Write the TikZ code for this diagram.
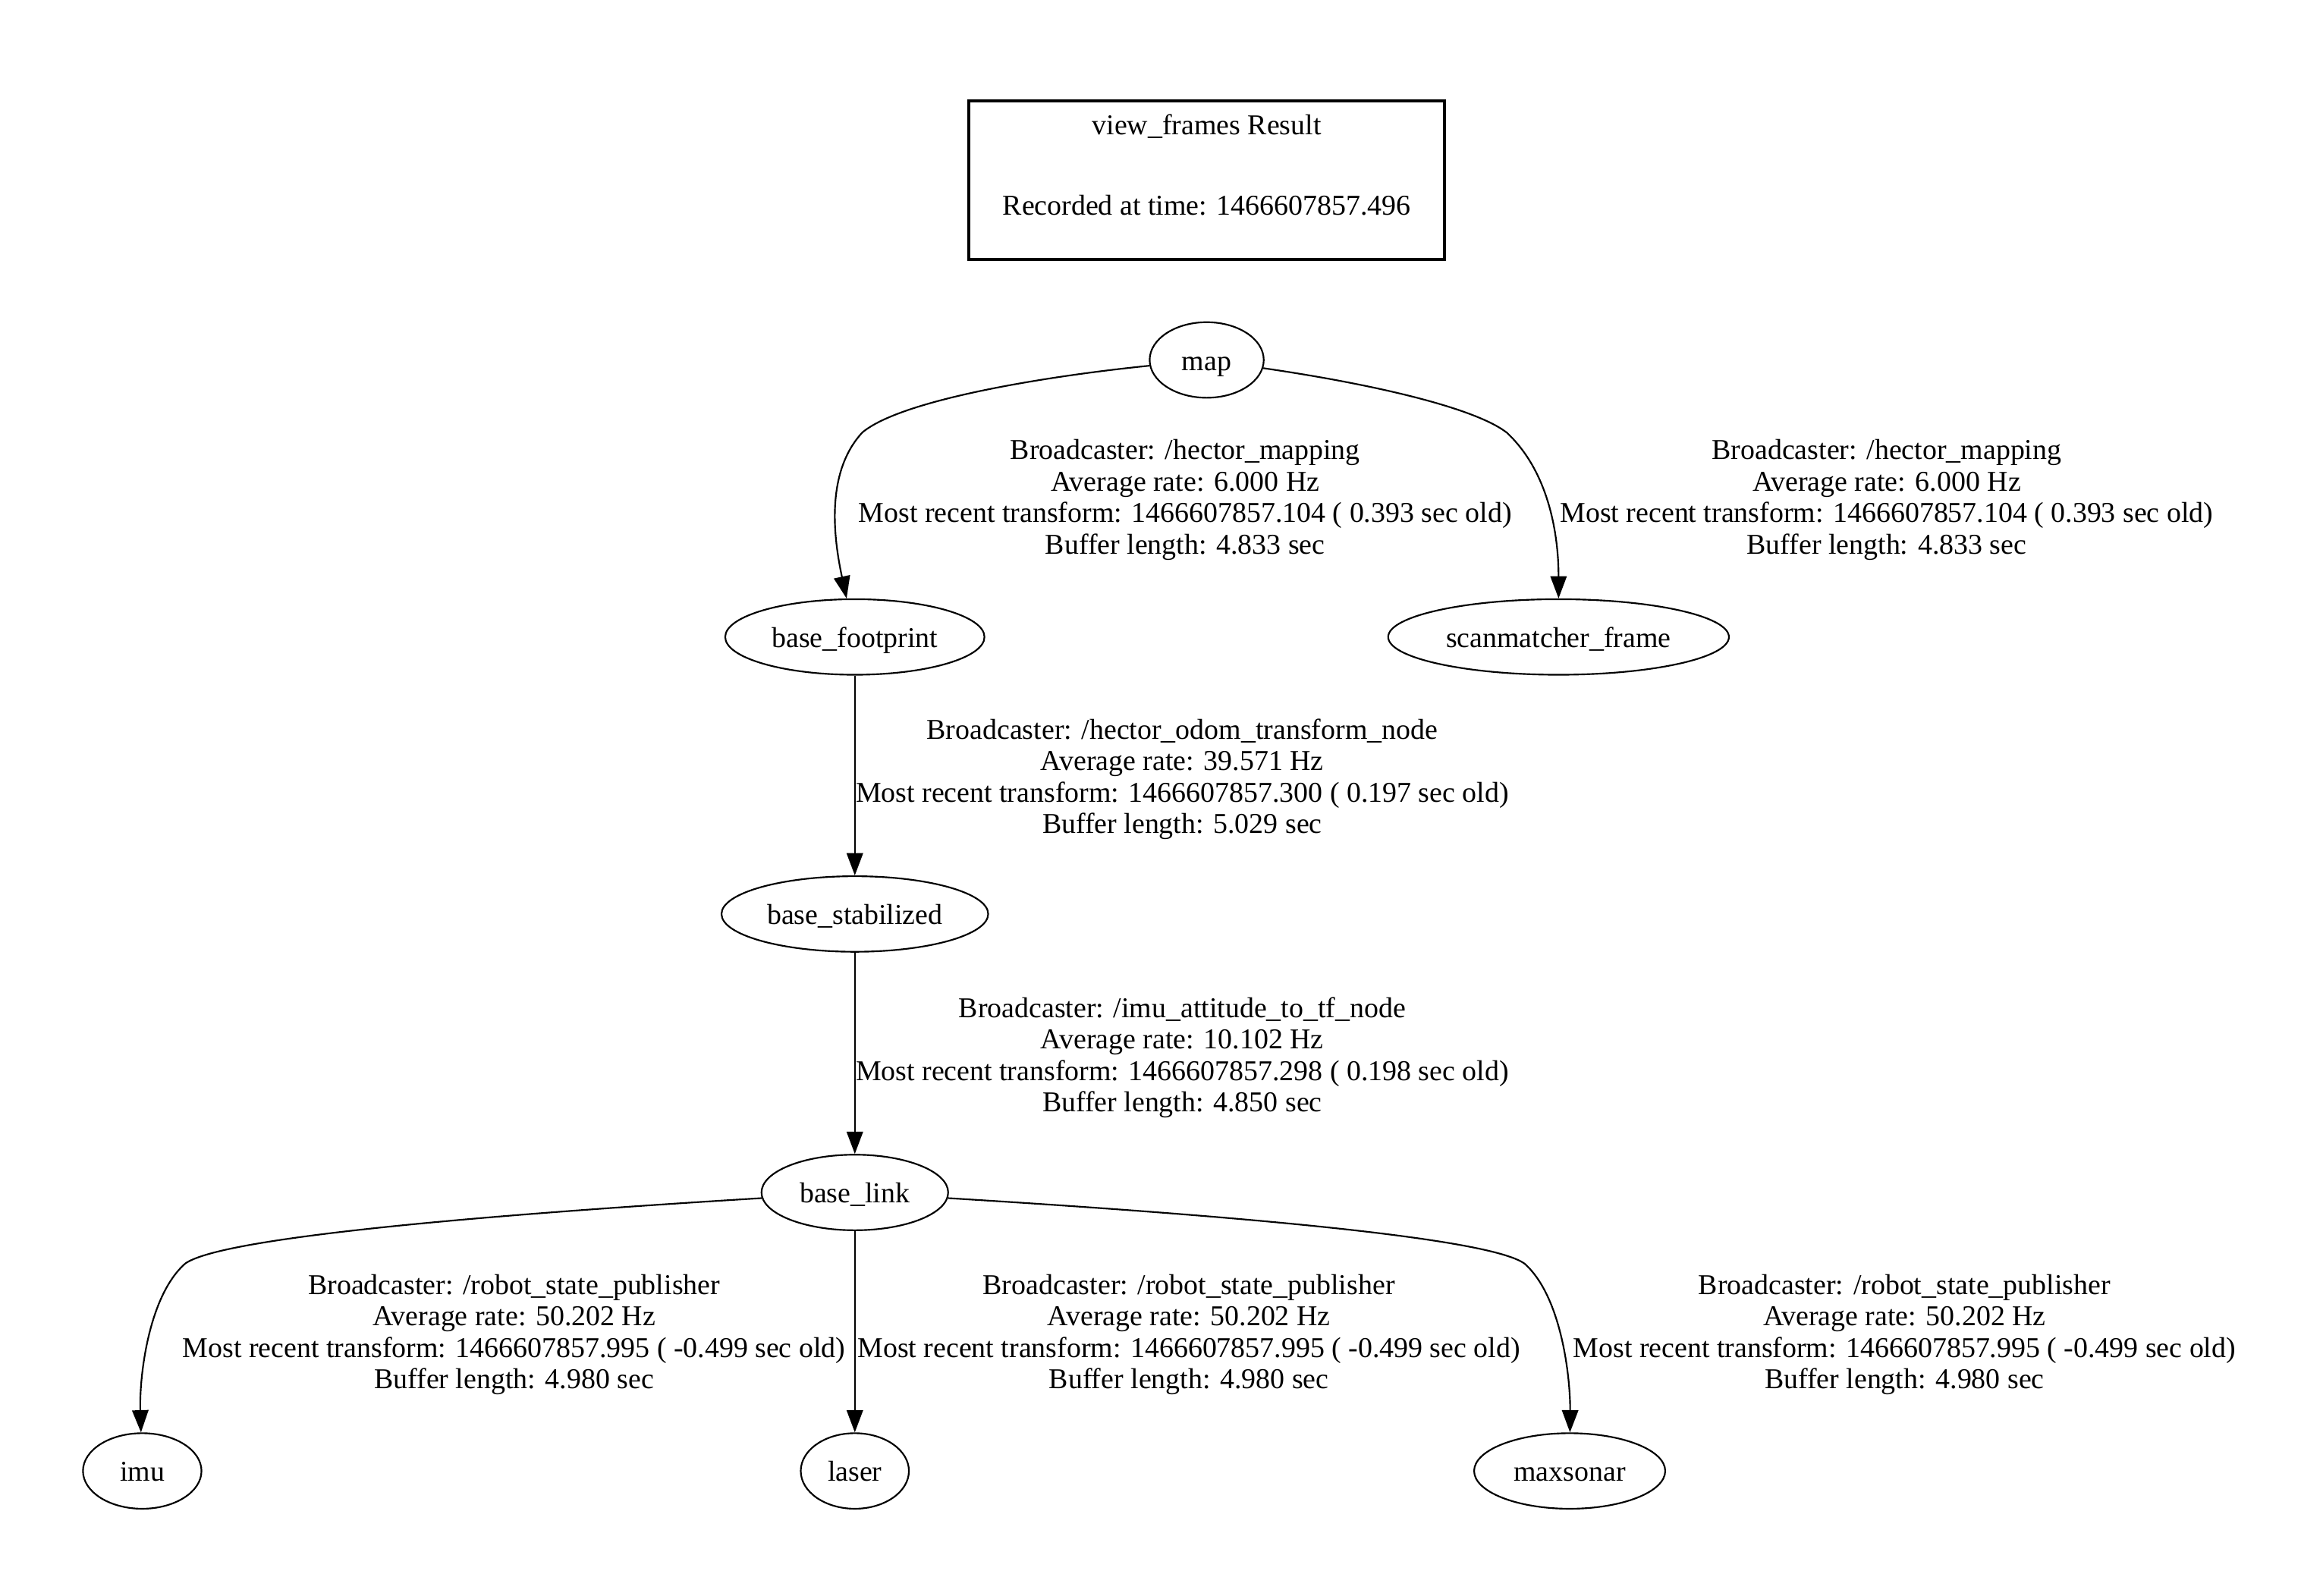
\documentclass[tikz,border=0pt]{standalone}
\usepackage{fontspec}
\setmainfont{Liberation Serif}
\usetikzlibrary{shapes.geometric,arrows.meta}
\begin{document}
\begin{tikzpicture}[x=1pt,y=-1pt,
  every node/.style={font=\fontsize{19.4}{21.3}\selectfont},
  frame/.style={draw, ellipse, line width=1.1pt, minimum height=51pt, inner sep=0pt, text height=18.5pt, text depth=4.5pt},
  lbl/.style={align=center, inner sep=0pt},
  arr/.style={-{Triangle[length=15pt,width=11pt]}, line width=1.1pt},
  titlebox/.style={draw, line width=2.2pt, minimum width=321pt, minimum height=107pt, inner sep=0pt}]
\useasboundingbox[fill=white] (0,0) rectangle (1568,1077);
% title
\node[titlebox] (title) at (814.5,121.5) {};
\node[inner sep=0pt] (t1) at (814.5,85.5) {view\_frames Result};
\node[inner sep=0pt] (t2) at (814.5,138.5) {Recorded at time: 1466607857.496};
% frames
\node[frame, minimum width=77pt] (map) at (814.5,243) {map};
\node[frame, minimum width=175pt] (bf) at (577,430) {base\_footprint};
\node[frame, minimum width=230pt] (sm) at (1052,430) {scanmatcher\_frame};
\node[frame, minimum width=180pt] (bs) at (577,617) {base\_stabilized};
\node[frame, minimum width=126pt] (bl) at (577,805) {base\_link};
\node[frame, minimum width=80pt] (imu) at (96,993) {imu};
\node[frame, minimum width=73pt] (laser) at (577,993) {laser};
\node[frame, minimum width=129pt] (mx) at (1059.5,993) {maxsonar};
% edges
\draw[arr] (map) .. controls (705,254) and (608,270) .. (582,292) .. controls (558,318) and (562,360) .. (bf);
\draw[arr] (map) .. controls (925,259) and (995,275) .. (1017,292) .. controls (1045,318) and (1052,360) .. (sm);
\draw[arr] (bf) -- (bs);
\draw[arr] (bs) -- (bl);
\draw[arr] (bl) .. controls (330,820) and (150,835) .. (125,853) .. controls (100,875) and (94,930) .. (imu);
\draw[arr] (bl) -- (laser);
\draw[arr] (bl) .. controls (824,820) and (1004,835) .. (1029,853) .. controls (1054,875) and (1060,930) .. (mx);
% labels
\node[lbl] (l1) at (800,337.5) {Broadcaster: /hector\_mapping\\Average rate: 6.000 Hz\\Most recent transform: 1466607857.104 ( 0.393 sec old)\\Buffer length: 4.833 sec};
\node[lbl] (l2) at (1273.5,337.5) {Broadcaster: /hector\_mapping\\Average rate: 6.000 Hz\\Most recent transform: 1466607857.104 ( 0.393 sec old)\\Buffer length: 4.833 sec};
\node[lbl] (l3) at (798,526) {Broadcaster: /hector\_odom\_transform\_node\\Average rate: 39.571 Hz\\Most recent transform: 1466607857.300 ( 0.197 sec old)\\Buffer length: 5.029 sec};
\node[lbl] (l4) at (798,714) {Broadcaster: /imu\_attitude\_to\_tf\_node\\Average rate: 10.102 Hz\\Most recent transform: 1466607857.298 ( 0.198 sec old)\\Buffer length: 4.850 sec};
\node[lbl] (l5) at (347,901) {Broadcaster: /robot\_state\_publisher\\Average rate: 50.202 Hz\\Most recent transform: 1466607857.995 ( -0.499 sec old)\\Buffer length: 4.980 sec};
\node[lbl] (l6) at (802.5,901) {Broadcaster: /robot\_state\_publisher\\Average rate: 50.202 Hz\\Most recent transform: 1466607857.995 ( -0.499 sec old)\\Buffer length: 4.980 sec};
\node[lbl] (l7) at (1285.5,901) {Broadcaster: /robot\_state\_publisher\\Average rate: 50.202 Hz\\Most recent transform: 1466607857.995 ( -0.499 sec old)\\Buffer length: 4.980 sec};
\end{tikzpicture}
\end{document}
